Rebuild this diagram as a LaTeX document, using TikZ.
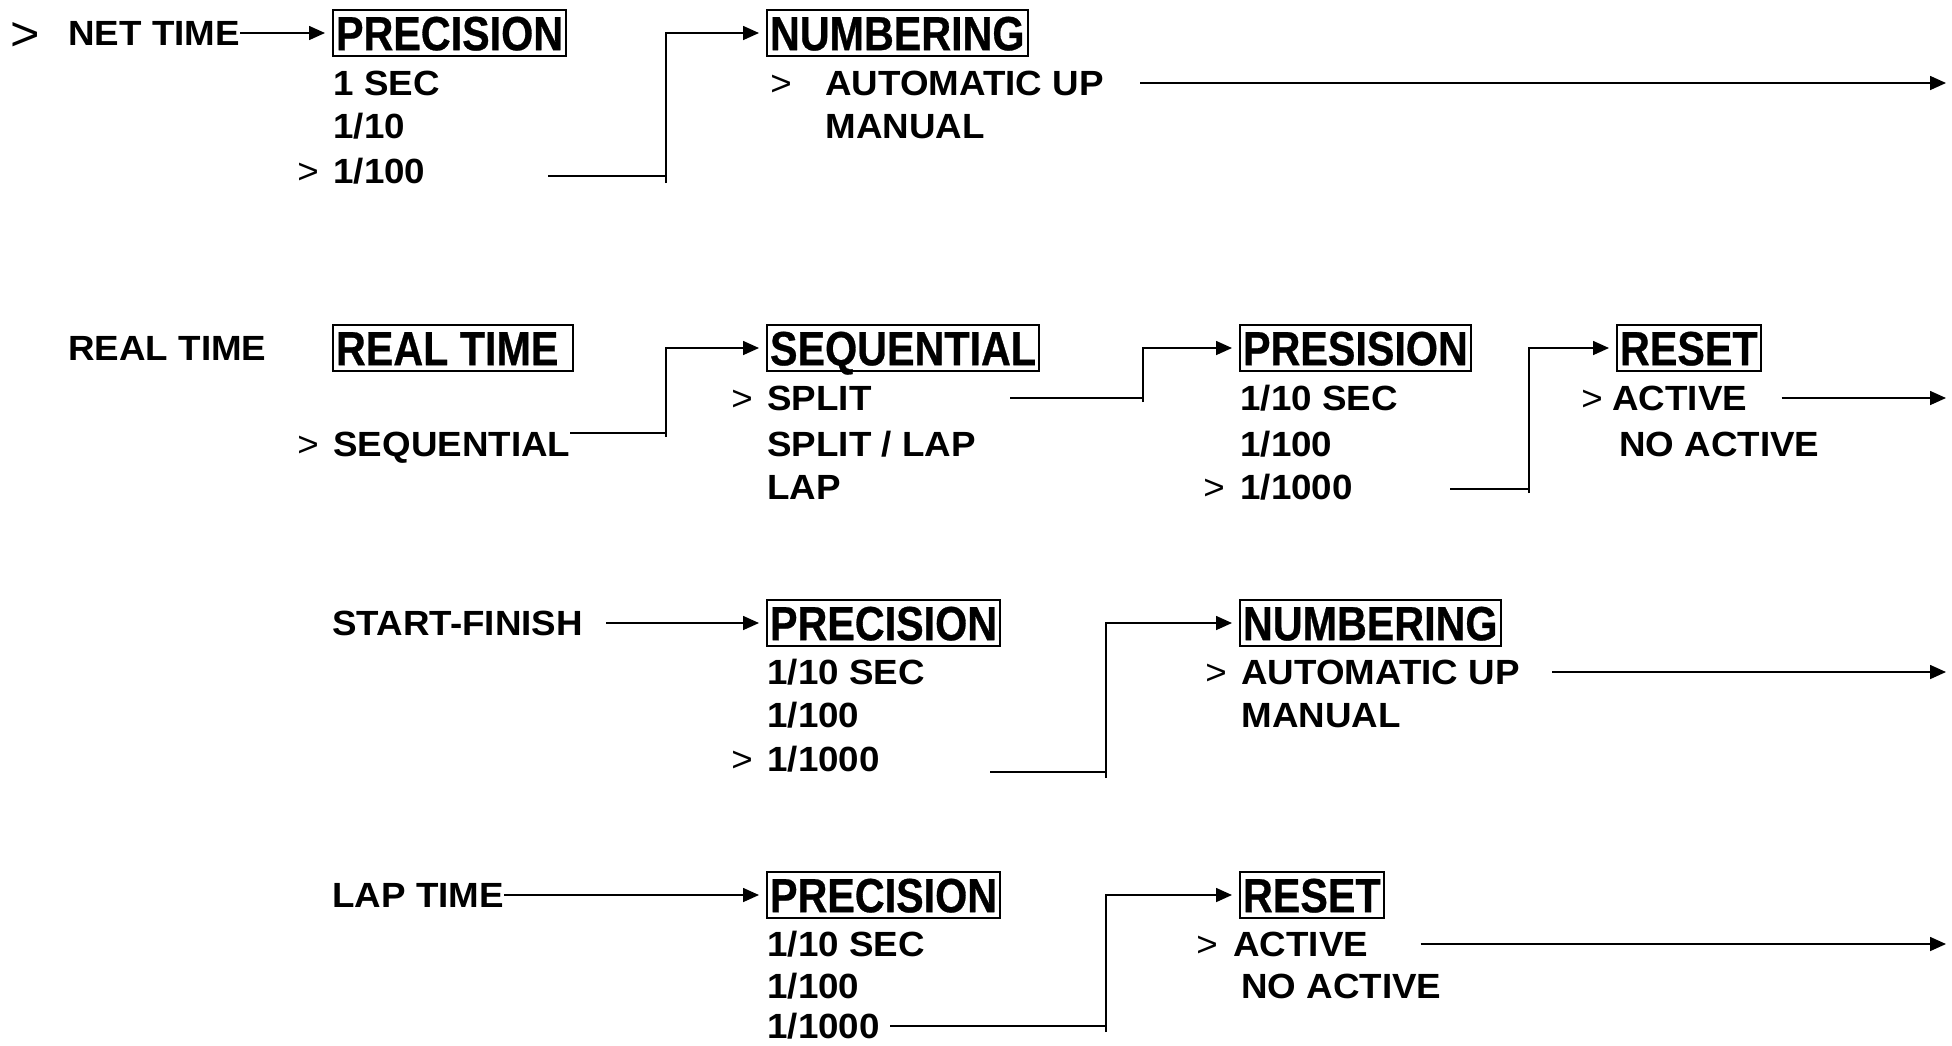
\documentclass[tikz,border=0pt]{standalone}
\usepackage{fontspec}
\setmainfont{Liberation Sans}
\newfontfamily\optfont{Liberation Sans}[FakeStretch=1.05]
\newfontfamily\headfont{Liberation Sans}[FakeStretch=0.86, FakeBold=0.6]
\usetikzlibrary{arrows.meta}

\begin{document}
\begin{tikzpicture}[
    x=0.5pt, y=-0.5pt,
    hdr/.style={draw, line width=1pt, anchor=west, inner xsep=1.5pt, inner ysep=3pt,
      font=\headfont\bfseries\fontsize{24}{28}\selectfont, text height=17.2pt, text depth=0pt},
    opt/.style={anchor=west, inner sep=0pt,
      font=\optfont\bfseries\fontsize{17.5}{20}\selectfont, text height=12.5pt, text depth=0pt},
    sel/.style={anchor=west, inner sep=0pt,
      font=\optfont\fontsize{17.5}{20}\selectfont, text height=12.5pt, text depth=0pt},
    bigsel/.style={anchor=west, inner sep=0pt,
      font=\optfont\fontsize{24}{28}\selectfont, text height=17.2pt, text depth=0pt},
    arr/.style={-{Triangle[length=8pt,width=7pt]}, line width=0.8pt, shorten >=3.5pt},
    ln/.style={line width=0.8pt},
  ]
    \useasboundingbox (0,0) rectangle (1952,1045);

    % NET TIME
    \node[bigsel] (gt0) at (10,33) {>};
    \node[opt] (net) at (68,33) {NET TIME};
    \node[hdr] (prec1) at (332,33) {PRECISION};
    \node[opt] (p1a) at (333,83) {1 SEC};
    \node[opt] (p1b) at (333,126) {1/10};
    \node[sel] (gt1) at (297,171) {>};
    \node[opt] (p1c) at (333,171) {1/100};
    \node[hdr] (num1) at (766,33) {NUMBERING};
    \node[sel] (gt2) at (770,83) {>};
    \node[opt] (n1a) at (825,83) {AUTOMATIC UP};
    \node[opt] (n1b) at (825,126) {MANUAL};
    \coordinate (s1) at (548,176);
    \coordinate (b1) at (666,183);
    \coordinate (e1) at (1946,83);

    \draw[arr] (net.east) -- (prec1.west);
    \draw[ln] (s1) -- (s1 -| b1);
    \draw[arr] (b1) |- (num1.west);
    \draw[arr, shorten >=0pt] ([xshift=18pt]n1a.east) -- (e1);

    % REAL TIME
    \node[opt] (real) at (68,348) {REAL TIME};
    \node[hdr] (rt2) at (332,348) {REAL TIME\ \ };
    \node[sel] (gt3) at (297,444) {>};
    \node[opt] (seq) at (333,444) {SEQUENTIAL};
    \node[hdr] (seq2) at (766,348) {SEQUENTIAL};
    \node[sel] (gt4) at (731,398) {>};
    \node[opt] (s2a) at (767,398) {SPLIT};
    \node[opt] (s2b) at (767,444) {SPLIT / LAP};
    \node[opt] (s2c) at (767,487) {LAP};
    \node[hdr] (pres2) at (1239,348) {PRESISION};
    \node[opt] (r2a) at (1240,398) {1/10 SEC};
    \node[opt] (r2b) at (1240,444) {1/100};
    \node[sel] (gt5) at (1203,487) {>};
    \node[opt] (r2c) at (1240,487) {1/1000};
    \node[hdr] (reset2) at (1616,348) {RESET};
    \node[sel] (gt6) at (1581,398) {>};
    \node[opt] (a2a) at (1612,398) {ACTIVE};
    \node[opt] (a2b) at (1619,444) {NO ACTIVE};
    \coordinate (s2) at (570,433);
    \coordinate (b2) at (666,437);
    \coordinate (s3) at (1010,398);
    \coordinate (b3) at (1143,402);
    \coordinate (s4) at (1450,489);
    \coordinate (b4) at (1529,493);
    \coordinate (e2) at (1946,398);

    \draw[ln] (s2) -- (s2 -| b2);
    \draw[arr] (b2) |- (seq2.west);
    \draw[ln] (s3) -- (s3 -| b3);
    \draw[arr] (b3) |- (pres2.west);
    \draw[ln] (s4) -- (s4 -| b4);
    \draw[arr] (b4) |- (reset2.west);
    \draw[arr, shorten >=0pt] ([xshift=17pt]a2a.east) -- (e2);

    % START-FINISH
    \node[opt] (sf) at (332,623) {START-FINISH};
    \node[hdr] (prec3) at (766,623) {PRECISION};
    \node[opt] (t3a) at (767,672) {1/10 SEC};
    \node[opt] (t3b) at (767,715) {1/100};
    \node[sel] (gt7) at (731,759) {>};
    \node[opt] (t3c) at (767,759) {1/1000};
    \node[hdr] (num3) at (1239,623) {NUMBERING};
    \node[sel] (gt8) at (1205,672) {>};
    \node[opt] (u3a) at (1241,672) {AUTOMATIC UP};
    \node[opt] (u3b) at (1241,715) {MANUAL};
    \coordinate (s5) at (990,772);
    \coordinate (b5) at (1106,778);
    \coordinate (e3) at (1946,672);

    \draw[arr] ([xshift=11.5pt]sf.east) -- (prec3.west);
    \draw[ln] (s5) -- (s5 -| b5);
    \draw[arr] (b5) |- (num3.west);
    \draw[arr, shorten >=0pt] ([xshift=16pt]u3a.east) -- (e3);

    % LAP TIME
    \node[opt] (lt) at (332,895) {LAP TIME};
    \node[hdr] (prec4) at (766,895) {PRECISION};
    \node[opt] (t4a) at (767,944) {1/10 SEC};
    \node[opt] (t4b) at (767,986) {1/100};
    \node[opt] (t4c) at (767,1026) {1/1000};
    \node[hdr] (reset4) at (1239,895) {RESET};
    \node[sel] (gt9) at (1196,944) {>};
    \node[opt] (v4a) at (1233,944) {ACTIVE};
    \node[opt] (v4b) at (1241,986) {NO ACTIVE};
    \coordinate (b6) at (1106,1032);
    \coordinate (e4) at (1946,944);

    \draw[arr] (lt.east) -- (prec4.west);
    \draw[ln] ([xshift=5pt]t4c.east) -- (t4c.east -| b6);
    \draw[arr] (b6) |- (reset4.west);
    \draw[arr, shorten >=0pt] ([xshift=26pt]v4a.east) -- (e4);
  \end{tikzpicture}
\end{document}
